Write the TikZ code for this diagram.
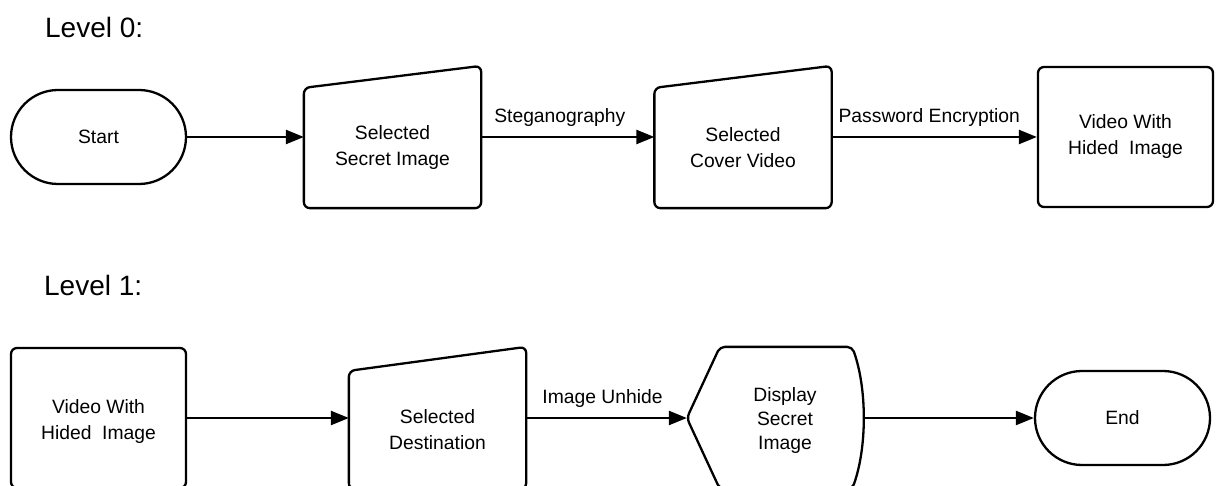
\documentclass[tikz,border=0pt]{standalone}
\usepackage{fontspec}
\setmainfont{Liberation Sans}
\usetikzlibrary{arrows.meta,shapes.misc,calc}

\begin{document}
\begin{tikzpicture}[x=1pt,y=-1pt,line width=2.3pt,line join=round,
  txt/.style={font=\fontsize{19.3}{26}\selectfont,align=center,inner sep=0pt},
  lvl/.style={font=\fontsize{28}{32}\selectfont,inner sep=0pt,anchor=base west},
  frame/.style={rectangle,draw=none,inner sep=0pt,minimum width=175pt,minimum height=140pt},
  terminal/.style={rounded rectangle,draw,inner sep=0pt,minimum width=175pt,minimum height=94pt,
                   font=\fontsize{19.3}{26}\selectfont},
  procbox/.style={rectangle,draw,rounded corners=6pt,inner sep=0pt,minimum width=175pt,minimum height=140pt,
                  font=\fontsize{19.3}{26}\selectfont,align=center},
  arr/.style={-{Triangle[length=18pt,width=14pt]}},
  elabel/.style={font=\fontsize{19.3}{26}\selectfont,inner sep=0pt,above=9pt}
]
\useasboundingbox (0,0) rectangle (1220,486);
\clip (0,0) rectangle (1220,486);

% ---------- Level 0 ----------
\node[lvl] (lv0) at (44,38) {Level 0:};

\node[terminal] (start) at (98.5,137) {Start};

\node[frame] (secret) at (392.5,137) {};
\draw[rounded corners=6pt] (secret.south west) -- (secret.south east) -- (secret.north east)
  -- ($(secret.north west)+(0,22)$) -- cycle;
\node[txt] (secrett) at ([yshift=-11pt]secret.center) {Selected\\Secret Image};

\node[frame] (cover) at (743,137) {};
\draw[rounded corners=6pt] (cover.south west) -- (cover.south east) -- (cover.north east)
  -- ($(cover.north west)+(0,22)$) -- cycle;
\node[txt] (covert) at ([yshift=-11pt]cover.center) {Selected\\Cover Video};

\node[procbox] (hidden) at (1125.5,137) {Video With\\Hided\ \ Image};

\draw[arr] (start.east) -- (secret.west);
\draw[arr] (secret.east) -- node[elabel,xshift=-8pt] (steg) {Steganography} (cover.west);
\draw[arr] (cover.east) -- node[elabel,xshift=-5pt] (pwd) {Password Encryption} (hidden.west);

% ---------- Level 1 ----------
\node[lvl] (lv1) at (43,295) {Level 1:};

\node[procbox] (hidden2) at (98.5,418) {};
\node[txt] (hidden2t) at ([yshift=-4pt]hidden2.center) {Video With\\Hided\ \ Image};

\node[frame] (dest) at (437.5,418) {};
\draw[rounded corners=6pt] (dest.south west) -- (dest.south east) -- (dest.north east)
  -- ($(dest.north west)+(0,24)$) -- cycle;
\node[txt] (destt) at ([yshift=-12pt]dest.center) {Selected\\Destination};

\node[frame,minimum width=174pt] (disp) at (775,418) {};
\draw[rounded corners=5pt] (disp.west) -- ($(disp.north west)+(33,0)$) -- ($(disp.north east)+(-11,0)$)
  .. controls ($(disp.north east)+(4,42)$) and ($(disp.south east)+(4,-42)$) .. ($(disp.south east)+(-11,0)$)
  -- ($(disp.south west)+(33,0)$) -- cycle;
\node[txt,font=\fontsize{19.3}{24}\selectfont] (dispt) at ([xshift=10pt,yshift=-3pt]disp.center) {Display\\Secret\\Image};

\node[terminal] (endn) at (1122.5,418) {End};

\draw[arr] (hidden2.east) -- (dest.west);
\draw[arr] (dest.east) -- node[elabel,xshift=-4pt] (unhide) {Image Unhide} (disp.west);
\draw[arr] (disp.east) -- (endn.west);
\end{tikzpicture}
\end{document}
